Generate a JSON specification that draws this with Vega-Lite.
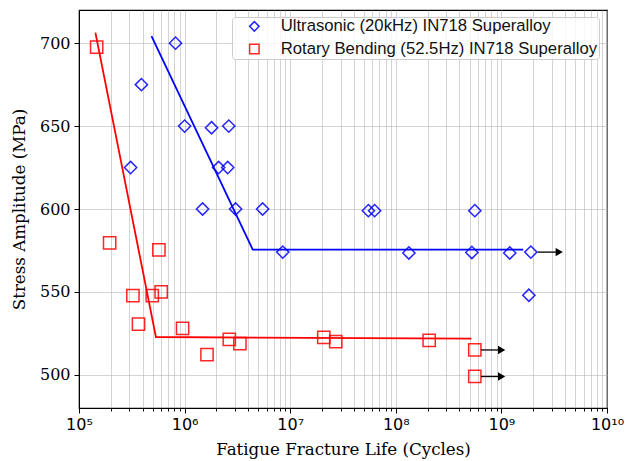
{
  "$schema": "https://vega.github.io/schema/vega-lite/v6.json",
  "width": 528,
  "height": 398,
  "autosize": {"type": "none"},
  "padding": {"left": 79, "top": 10, "right": 21, "bottom": 53},
  "config": {
    "view": {"stroke": "black", "strokeWidth": 1.2},
    "axis": {
      "domainColor": "black",
      "tickColor": "black",
      "labelColor": "black",
      "titleColor": "black",
      "gridColor": "#b0b0b0",
      "gridOpacity": 0.55,
      "gridWidth": 1
    },
    "legend": {
      "orient": "none",
      "legendX": 153,
      "legendY": 7,
      "padding": 1,
      "symbolOffset": 13,
      "fillColor": "rgba(255,255,255,0.8)",
      "strokeColor": "#cccccc",
      "cornerRadius": 3,
      "labelFont": "Liberation Sans",
      "labelFontSize": 16.7,
      "labelColor": "#111111",
      "labelLimit": 400,
      "labelOffset": 18,
      "symbolSize": 90,
      "symbolStrokeWidth": 1.5,
      "rowPadding": 4.6
    }
  },
  "datasets": {
    "pts": [
      {"series": "Ultrasonic (20kHz) IN718 Superalloy", "N": 308000, "S": 625},
      {"series": "Ultrasonic (20kHz) IN718 Superalloy", "N": 390000, "S": 675},
      {"series": "Ultrasonic (20kHz) IN718 Superalloy", "N": 820000, "S": 700},
      {"series": "Ultrasonic (20kHz) IN718 Superalloy", "N": 1000000, "S": 650},
      {"series": "Ultrasonic (20kHz) IN718 Superalloy", "N": 1480000, "S": 600},
      {"series": "Ultrasonic (20kHz) IN718 Superalloy", "N": 1800000, "S": 649},
      {"series": "Ultrasonic (20kHz) IN718 Superalloy", "N": 2100000, "S": 625},
      {"series": "Ultrasonic (20kHz) IN718 Superalloy", "N": 2560000, "S": 625},
      {"series": "Ultrasonic (20kHz) IN718 Superalloy", "N": 2620000, "S": 650},
      {"series": "Ultrasonic (20kHz) IN718 Superalloy", "N": 3040000, "S": 600},
      {"series": "Ultrasonic (20kHz) IN718 Superalloy", "N": 5480000, "S": 600},
      {"series": "Ultrasonic (20kHz) IN718 Superalloy", "N": 8500000, "S": 574},
      {"series": "Ultrasonic (20kHz) IN718 Superalloy", "N": 55000000, "S": 599},
      {"series": "Ultrasonic (20kHz) IN718 Superalloy", "N": 63000000, "S": 599},
      {"series": "Ultrasonic (20kHz) IN718 Superalloy", "N": 133000000, "S": 573.5},
      {"series": "Ultrasonic (20kHz) IN718 Superalloy", "N": 525000000, "S": 573.8},
      {"series": "Ultrasonic (20kHz) IN718 Superalloy", "N": 560000000, "S": 599},
      {"series": "Ultrasonic (20kHz) IN718 Superalloy", "N": 1200000000, "S": 573.5},
      {"series": "Ultrasonic (20kHz) IN718 Superalloy", "N": 1900000000, "S": 574},
      {"series": "Ultrasonic (20kHz) IN718 Superalloy", "N": 1820000000, "S": 548},
      {"series": "Rotary Bending (52.5Hz) IN718 Superalloy", "N": 147000, "S": 697.6},
      {"series": "Rotary Bending (52.5Hz) IN718 Superalloy", "N": 195000, "S": 579.5},
      {"series": "Rotary Bending (52.5Hz) IN718 Superalloy", "N": 324000, "S": 547.7},
      {"series": "Rotary Bending (52.5Hz) IN718 Superalloy", "N": 366000, "S": 530.6},
      {"series": "Rotary Bending (52.5Hz) IN718 Superalloy", "N": 494000, "S": 547.7},
      {"series": "Rotary Bending (52.5Hz) IN718 Superalloy", "N": 571000, "S": 575.3},
      {"series": "Rotary Bending (52.5Hz) IN718 Superalloy", "N": 600000, "S": 550},
      {"series": "Rotary Bending (52.5Hz) IN718 Superalloy", "N": 957000, "S": 528},
      {"series": "Rotary Bending (52.5Hz) IN718 Superalloy", "N": 1630000, "S": 512.2},
      {"series": "Rotary Bending (52.5Hz) IN718 Superalloy", "N": 2650000, "S": 521.4},
      {"series": "Rotary Bending (52.5Hz) IN718 Superalloy", "N": 3340000, "S": 518.8},
      {"series": "Rotary Bending (52.5Hz) IN718 Superalloy", "N": 20800000, "S": 522.6},
      {"series": "Rotary Bending (52.5Hz) IN718 Superalloy", "N": 27000000, "S": 520},
      {"series": "Rotary Bending (52.5Hz) IN718 Superalloy", "N": 207000000, "S": 520.8},
      {"series": "Rotary Bending (52.5Hz) IN718 Superalloy", "N": 560000000, "S": 515},
      {"series": "Rotary Bending (52.5Hz) IN718 Superalloy", "N": 560000000, "S": 499}
    ],
    "fitU": [
      {"ord": 1, "N": 486000, "S": 704.2},
      {"ord": 2, "N": 4420000, "S": 575.5},
      {"ord": 3, "N": 1610000000, "S": 575.5}
    ],
    "fitR": [
      {"ord": 1, "N": 143000, "S": 706.4},
      {"ord": 2, "N": 535000, "S": 522.8},
      {"ord": 3, "N": 520000000, "S": 521.8}
    ],
    "arrows": [
      {"N": 2200000000, "N2": 3530000000, "S": 574},
      {"N": 640000000, "N2": 1005000000, "S": 515},
      {"N": 640000000, "N2": 1005000000, "S": 499}
    ]
  },
  "encoding": {
    "x": {
      "field": "N",
      "type": "quantitative",
      "scale": {"type": "log", "domain": [100000, 10000000000], "nice": false},
      "axis": {
        "title": "Fatigue Fracture Life (Cycles)",
        "titleFont": "DejaVu Serif",
        "titleFontSize": 16.7,
        "titleFontWeight": "normal",
        "titlePadding": 9,
        "labelFont": "DejaVu Sans",
        "labelFontSize": 16,
        "labelPadding": 3,
        "labelOverlap": false,
        "labelFlush": false,
        "grid": true,
        "values": [100000, 200000, 300000, 400000, 500000, 600000, 700000, 800000, 900000,
                   1000000, 2000000, 3000000, 4000000, 5000000, 6000000, 7000000, 8000000, 9000000,
                   10000000, 20000000, 30000000, 40000000, 50000000, 60000000, 70000000, 80000000, 90000000,
                   100000000, 200000000, 300000000, 400000000, 500000000, 600000000, 700000000, 800000000, 900000000,
                   1000000000, 2000000000, 3000000000, 4000000000, 5000000000, 6000000000, 7000000000, 8000000000, 9000000000,
                   10000000000],
        "tickSize": {"condition": {"test": "abs(log(datum.value)/LN10 - round(log(datum.value)/LN10)) < 0.001", "value": 5}, "value": 3},
        "labelExpr": "abs(log(datum.value)/LN10 - round(log(datum.value)/LN10)) < 0.001 ? (round(log(datum.value)/LN10) == 10 ? '10¹⁰' : '10' + substring('⁰¹²³⁴⁵⁶⁷⁸⁹', round(log(datum.value)/LN10), round(log(datum.value)/LN10) + 1)) : ''"
      }
    },
    "y": {
      "field": "S",
      "type": "quantitative",
      "scale": {"domain": [480, 720], "nice": false, "zero": false},
      "axis": {
        "title": "Stress Amplitude (MPa)",
        "titleFont": "DejaVu Serif",
        "titleFontSize": 16.7,
        "titleFontWeight": "normal",
        "titlePadding": 11,
        "labelFont": "DejaVu Serif",
        "labelFontSize": 16,
        "labelPadding": 4,
        "tickSize": 5,
        "values": [500, 550, 600, 650, 700],
        "grid": true
      }
    }
  },
  "layer": [
    {
      "data": {"name": "fitU"},
      "mark": {"type": "line", "strokeWidth": 1.8, "color": "#0000ff"},
      "encoding": {"order": {"field": "ord", "type": "quantitative"}}
    },
    {
      "data": {"name": "fitR"},
      "mark": {"type": "line", "strokeWidth": 1.8, "color": "#ff0000"},
      "encoding": {"order": {"field": "ord", "type": "quantitative"}}
    },
    {
      "data": {"name": "pts"},
      "mark": {"type": "point", "filled": false, "strokeWidth": 1.5, "size": 150, "opacity": 0.85},
      "encoding": {
        "color": {
          "field": "series",
          "type": "nominal",
          "scale": {"domain": ["Ultrasonic (20kHz) IN718 Superalloy", "Rotary Bending (52.5Hz) IN718 Superalloy"], "range": ["#0000ff", "#ff0000"]},
          "title": null
        },
        "shape": {
          "field": "series",
          "type": "nominal",
          "scale": {"domain": ["Ultrasonic (20kHz) IN718 Superalloy", "Rotary Bending (52.5Hz) IN718 Superalloy"], "range": ["diamond", "square"]},
          "title": null
        }
      }
    },
    {
      "data": {"name": "arrows"},
      "mark": {"type": "rule", "color": "black", "strokeWidth": 1.3},
      "encoding": {"x2": {"field": "N2"}}
    },
    {
      "data": {"name": "arrows"},
      "mark": {"type": "point", "shape": "triangle-right", "filled": true, "color": "black", "size": 70, "opacity": 1},
      "encoding": {"x": {"field": "N2", "type": "quantitative"}}
    }
  ]
}
